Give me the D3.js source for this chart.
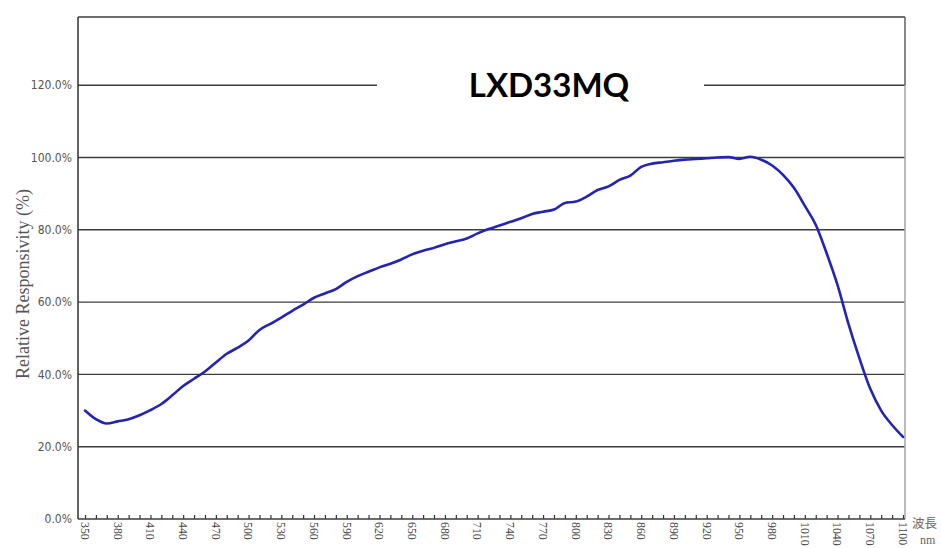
<!DOCTYPE html>
<html><head><meta charset="utf-8">
<script src="https://cdn.jsdelivr.net/npm/d3@7"></script>
<style>html,body{margin:0;padding:0;background:#fff;}svg{display:block;}</style>
</head><body>
<svg id="c" width="941" height="548"></svg>
<script>
const title = "LXD33MQ";
const yAxisTitle = "Relative Responsivity (%)";
const xUnitLabel = ["波長", "nm"];
const yTicks = [0, 20, 40, 60, 80, 100, 120];
const xLabelTicks = [350,380,410,440,470,500,530,560,590,620,650,680,710,740,770,800,830,860,890,920,950,980,1010,1040,1070,1100];
const wavelength = [350,360,370,380,390,400,410,420,430,440,450,460,470,480,490,500,510,520,530,540,550,560,570,580,590,600,610,620,630,640,650,660,670,680,690,700,710,720,730,740,750,760,770,780,790,800,810,820,830,840,850,860,870,880,890,900,910,920,930,940,950,960,970,980,990,1000,1010,1020,1030,1040,1050,1060,1070,1080,1090,1100];
const responsivity = [30.0,27.6,26.4,27.0,27.6,28.7,30.1,31.8,34.2,36.8,38.8,40.8,43.3,45.7,47.4,49.4,52.3,54.0,55.7,57.6,59.3,61.2,62.4,63.6,65.6,67.2,68.4,69.6,70.6,71.8,73.2,74.2,75.0,76.0,76.8,77.6,79.0,80.2,81.2,82.2,83.2,84.4,85.0,85.6,87.4,87.8,89.2,91.0,92.0,93.8,95.0,97.4,98.3,98.7,99.1,99.4,99.6,99.8,100.0,100.1,99.6,100.2,99.4,97.8,95.2,91.6,86.6,81.4,73.5,64.7,54.0,44.5,36.0,30.0,26.0,22.7];

const svg = d3.select("#c");
const L = 78, R = 905, T = 17, B = 519;
const x = d3.scaleLinear().domain([350, 1100]).range([85, 903]);
const y = d3.scaleLinear().domain([0, 20]).range([B, B - 72.3]);

// gridlines
svg.append("g").selectAll("line").data(yTicks.filter(d => d > 0)).join("line")
  .attr("x1", L).attr("x2", R).attr("y1", d => y(d)).attr("y2", d => y(d))
  .attr("stroke", "#3c3c3c").attr("stroke-width", 1.4);

// frame
svg.append("line").attr("x1", L).attr("x2", R).attr("y1", T).attr("y2", T).attr("stroke", "#3c3c3c").attr("stroke-width", 1.4);
svg.append("line").attr("x1", R).attr("x2", R).attr("y1", T).attr("y2", y(120)).attr("stroke", "#555").attr("stroke-width", 1.4);
svg.append("line").attr("x1", R).attr("x2", R).attr("y1", y(120)).attr("y2", B).attr("stroke", "#aaa").attr("stroke-width", 1.6);
svg.append("line").attr("x1", L).attr("x2", L).attr("y1", T).attr("y2", B).attr("stroke", "#3c3c3c").attr("stroke-width", 1.6);

// x axis with inner ticks every 10 nm
const xAxis = d3.axisBottom(x).tickValues(d3.range(350, 1101, 10)).tickSize(-4).tickFormat("");
const gx = svg.append("g").attr("transform", `translate(0,${B})`).call(xAxis);
gx.select(".domain").remove();
gx.selectAll(".tick line").attr("stroke", "#333").attr("stroke-width", 1.2);
svg.append("line").attr("x1", L).attr("x2", R).attr("y1", B).attr("y2", B).attr("stroke", "#3c3c3c").attr("stroke-width", 1.6);

// x labels rotated
svg.append("g").selectAll("text").data(xLabelTicks).join("text")
  .attr("transform", d => `translate(${x(d)},522) rotate(90)`)
  .attr("dy", "0.35em")
  .attr("text-anchor", "start")
  .attr("font-family", "Liberation Serif, serif")
  .attr("font-size", 11.8)
  .attr("fill", "#444")
  .text(d => d);

// y labels
svg.append("g").selectAll("text").data(yTicks).join("text")
  .attr("x", 72).attr("y", d => y(d)).attr("dy", "0.35em")
  .attr("text-anchor", "end")
  .attr("font-family", "DejaVu Sans Condensed, DejaVu Sans, sans-serif")
  .attr("font-size", 12)
  .attr("fill", "#555")
  .text(d => d.toFixed(1) + "%");

// y axis title
svg.append("text").attr("transform", "translate(29,284) rotate(-90)")
  .attr("text-anchor", "middle")
  .attr("font-family", "Liberation Serif, serif")
  .attr("font-size", 18)
  .attr("fill", "#555")
  .text(yAxisTitle);

// unit label
svg.append("text").attr("x", 912).attr("y", 528).attr("font-family", "Noto Sans CJK TC, sans-serif")
  .attr("font-size", 12.5).attr("fill", "#666").text(xUnitLabel[0]);
svg.append("text").attr("x", 920).attr("y", 544).attr("font-family", "Liberation Serif, serif")
  .attr("font-size", 12).attr("fill", "#666").text(xUnitLabel[1]);

// title with white background
svg.append("rect").attr("x", 377).attr("y", 62).attr("width", 327).attr("height", 46).attr("fill", "#fff");
svg.append("text").attr("x", 549).attr("y", 97).attr("text-anchor", "middle")
  .attr("font-family", "Lato, Open Sans, sans-serif").attr("font-weight", "bold")
  .attr("font-size", 33).attr("fill", "#000").text(title);

// curve
const data = wavelength.map((w, i) => ({w, v: responsivity[i]}));
svg.append("path").datum(data)
  .attr("fill", "none").attr("stroke", "#2424b4").attr("stroke-width", 2.6)
  .attr("stroke-linejoin", "round").attr("stroke-linecap", "round")
  .attr("d", d3.line().x(d => x(d.w)).y(d => y(d.v)).curve(d3.curveMonotoneX));
</script>
</body></html>
